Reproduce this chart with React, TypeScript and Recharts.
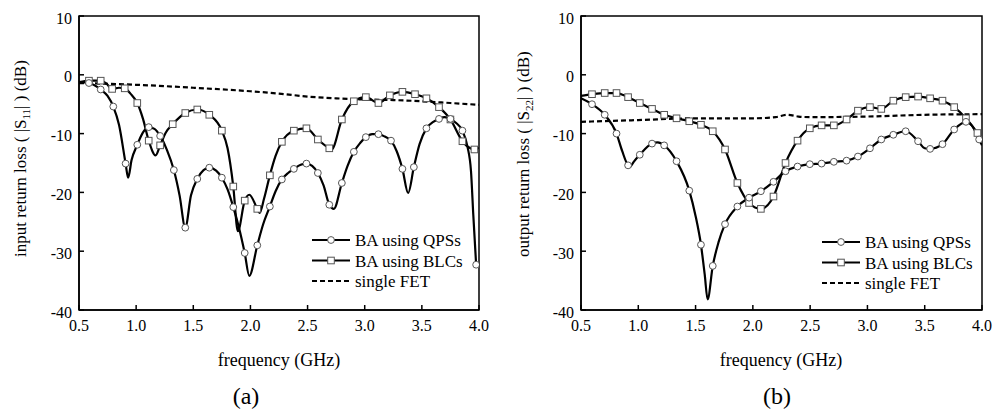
import React from 'react'
import { ComposedChart, Line, XAxis, YAxis, ReferenceArea } from 'recharts'

// [frequency GHz, dB, 1 = point carries a marker]
type Row = [number, number, number?]

const freqTicks = [0.5, 1.0, 1.5, 2.0, 2.5, 3.0, 3.5, 4.0]
const dbTicks = [-40, -30, -20, -10, 0, 10]
const seriesNames = ['BA using QPSs', 'BA using BLCs', 'single FET']

// (a) input return loss |S11|
const s11Qps: Row[] = [
  [0.5, -1.2], [0.587, -1.4, 1], [0.69, -2.5, 1], [0.75, -3.6], [0.8, -5.4, 1], [0.85, -8.5],
  [0.908, -15.1, 1], [0.93, -17.5], [0.96, -14.5], [1.01, -11.9, 1], [1.06, -9.8], [1.11, -8.9, 1],
  [1.16, -9.2], [1.21, -10.4, 1], [1.27, -12.8], [1.33, -16.2, 1], [1.38, -20.5], [1.43, -26, 1],
  [1.48, -20.5], [1.535, -17.7, 1], [1.59, -16.2], [1.64, -15.8, 1], [1.7, -16.3], [1.75, -17.5, 1],
  [1.8, -19.5], [1.85, -22.5, 1], [1.9, -26], [1.95, -30.3, 1], [1.99, -34.2], [2.06, -29, 1],
  [2.11, -25.5], [2.17, -22.4, 1], [2.22, -19.8], [2.275, -17.8, 1], [2.33, -16.7], [2.38, -16, 1],
  [2.44, -15.3], [2.49, -15.1, 1], [2.54, -15.5], [2.59, -16.7, 1], [2.64, -18.8], [2.69, -22.1, 1],
  [2.73, -22.8], [2.8, -18.4, 1], [2.85, -15.5], [2.905, -13.1, 1], [2.96, -11.6], [3.01, -10.6, 1],
  [3.065, -10.1], [3.12, -10.1, 1], [3.175, -10.5], [3.23, -11.2, 1], [3.28, -13], [3.33, -16, 1],
  [3.38, -20.1], [3.43, -15.7, 1], [3.48, -11.8], [3.54, -9.1, 1], [3.6, -8], [3.65, -7.5, 1],
  [3.7, -7.2], [3.75, -7.5, 1], [3.8, -8.2], [3.855, -9.5, 1], [3.9, -12.3], [3.93, -16.4],
  [3.95, -23.8], [3.975, -32.3, 1],
]
const s11Blc: Row[] = [
  [0.5, -1.3], [0.587, -1.0, 1], [0.69, -1.0, 1], [0.74, -1.5], [0.79, -2.4, 1], [0.85, -2.2],
  [0.9, -2.3, 1], [0.95, -3.2], [1.01, -4.8, 1], [1.06, -7.5], [1.11, -11.2, 1], [1.17, -13.7],
  [1.21, -12, 1], [1.26, -9.8], [1.32, -8.4, 1], [1.43, -6.5, 1], [1.535, -5.9, 1], [1.64, -6.8, 1],
  [1.75, -9.5, 1], [1.8, -12.5], [1.85, -19, 1], [1.89, -26.6], [1.95, -21.4, 1], [1.99, -20.4],
  [2.06, -22.8, 1], [2.08, -23.5], [2.12, -21], [2.17, -17.1, 1], [2.22, -13.8], [2.275, -11.4, 1],
  [2.38, -9.5, 1], [2.49, -9.1, 1], [2.59, -11, 1], [2.69, -12.5, 1], [2.71, -12.7], [2.8, -7.6, 1],
  [2.905, -4.5, 1], [3.01, -3.8, 1], [3.12, -4.8, 1], [3.22, -3.5, 1], [3.33, -2.9, 1], [3.44, -3.3, 1],
  [3.54, -4.0, 1], [3.65, -5.5, 1], [3.75, -7.6, 1], [3.855, -11.3, 1], [3.96, -12.7, 1], [4.0, -12.4],
]
const s11Fet: Row[] = [
  [0.5, -1.4], [1.0, -1.7], [1.5, -2.2], [2.0, -2.8], [2.25, -3.2], [2.5, -3.7], [2.75, -4.0],
  [3.0, -4.2], [3.25, -4.3], [3.5, -4.5], [3.75, -4.8], [4.0, -5.1],
]

// (b) output return loss |S22|
const s22Qps: Row[] = [
  [0.5, -4.0], [0.596, -5.0, 1], [0.707, -6.8, 1], [0.81, -10, 1], [0.86, -13], [0.911, -15.4, 1],
  [0.93, -15.6], [0.96, -14.8], [1.013, -13.6, 1], [1.12, -11.7, 1], [1.17, -11.5], [1.226, -12, 1],
  [1.334, -14.7, 1], [1.445, -19.7, 1], [1.5, -24], [1.547, -28.9, 1], [1.58, -34], [1.605, -38.2],
  [1.65, -32.5, 1], [1.7, -28.5], [1.757, -25.4, 1], [1.865, -22.4, 1], [1.967, -20.9, 1],
  [2.07, -19.8, 1], [2.18, -18.2, 1], [2.285, -16.4, 1], [2.39, -15.6, 1], [2.497, -15.2, 1],
  [2.6, -15.1, 1], [2.707, -14.8, 1], [2.818, -14.6, 1], [2.917, -13.9, 1], [3.022, -12.5, 1],
  [3.121, -11, 1], [3.226, -10.2, 1], [3.334, -9.6, 1], [3.442, -11.3, 1], [3.5, -12.5],
  [3.547, -12.6, 1], [3.655, -11.8, 1], [3.757, -9.3, 1], [3.86, -8.0, 1], [3.91, -8.6],
  [3.975, -11, 1], [4.0, -12],
]
const s22Blc: Row[] = [
  [0.5, -3.6], [0.596, -3.3, 1], [0.707, -3.1, 1], [0.81, -3.1, 1], [0.911, -3.8, 1], [1.013, -4.8, 1],
  [1.12, -5.8, 1], [1.226, -6.8, 1], [1.334, -7.4, 1], [1.445, -7.9, 1], [1.547, -8.5, 1],
  [1.65, -9.6, 1], [1.757, -12.7, 1], [1.865, -18.4, 1], [1.967, -21.8, 1], [2.07, -22.8, 1],
  [2.18, -20.7, 1], [2.285, -15, 1], [2.39, -11.2, 1], [2.497, -9.1, 1], [2.6, -8.6, 1],
  [2.707, -8.6, 1], [2.818, -7.6, 1], [2.917, -6.1, 1], [3.022, -5.5, 1], [3.121, -5.8, 1],
  [3.226, -4.4, 1], [3.334, -3.8, 1], [3.442, -3.7, 1], [3.547, -4.0, 1], [3.655, -4.4, 1],
  [3.757, -5.5, 1], [3.86, -7.4, 1], [3.96, -9.9, 1], [4.0, -11],
]
const s22Fet: Row[] = [
  [0.5, -8.0], [1.0, -7.7], [1.5, -7.4], [2.0, -7.4], [2.2, -7.2], [2.3, -6.8], [2.4, -7.1],
  [2.5, -7.2], [3.0, -7.1], [3.5, -6.8], [4.0, -6.7],
]

const serif = 'Liberation Serif'
const toPoints = (rows: Row[]) => rows.map(([f, db, m]) => ({ f, db, m: m === 1 }))

const circleDot = (p: any) =>
  p.payload && p.payload.m ? (
    <circle key={p.index} cx={p.cx} cy={p.cy} r={3.4} fill="#fff" stroke="#555" strokeWidth={1} />
  ) : (
    <g key={p.index} />
  )
const squareDot = (p: any) =>
  p.payload && p.payload.m ? (
    <rect key={p.index} x={p.cx - 3.3} y={p.cy - 3.3} width={6.6} height={6.6} fill="#fff" stroke="#555" strokeWidth={1} />
  ) : (
    <g key={p.index} />
  )

const tickStyle = { fontSize: 16, fill: '#000', fontFamily: serif }
const axisStyle = { stroke: '#000', strokeWidth: 1.5 }

function Panel({ left, mLeft, mRight, qps, blc, fet }: any) {
  return (
    <div style={{ position: 'absolute', left, top: 0 }}>
      <ComposedChart width={495} height={412} margin={{ top: 16, right: mRight, bottom: 72, left: mLeft }}>
        <XAxis
          type="number"
          dataKey="f"
          domain={[0.5, 4]}
          ticks={freqTicks}
          interval={0}
          allowDataOverflow
          tickFormatter={(v: number) => v.toFixed(1)}
          height={30}
          tickSize={-5}
          tickMargin={15}
          tick={tickStyle}
          axisLine={axisStyle}
          tickLine={axisStyle}
        />
        <YAxis
          type="number"
          domain={[-40, 10]}
          ticks={dbTicks}
          interval={0}
          allowDataOverflow
          width={40}
          tickSize={-5}
          tickMargin={12}
          tick={{ ...tickStyle, dy: 2 }}
          axisLine={axisStyle}
          tickLine={axisStyle}
        />
        <ReferenceArea x1={0.5} x2={4} y1={-40} y2={10} fill="none" stroke="#000" strokeWidth={1.5} />
        <Line data={toPoints(fet)} dataKey="db" type="monotone" stroke="#000" strokeWidth={2.2}
          strokeDasharray="5 3" dot={false} isAnimationActive={false} />
        <Line data={toPoints(blc)} dataKey="db" type="monotone" stroke="#000" strokeWidth={2.2}
          dot={squareDot} isAnimationActive={false} />
        <Line data={toPoints(qps)} dataKey="db" type="monotone" stroke="#000" strokeWidth={2.2}
          dot={circleDot} isAnimationActive={false} />
      </ComposedChart>
    </div>
  )
}

function LegendBox({ x, y }: { x: number; y: number }) {
  return (
    <g>
      {seriesNames.map((name, i) => {
        const cy = y + i * 20.5
        return (
          <g key={name}>
            <line x1={x} x2={x + 38} y1={cy} y2={cy} stroke="#000" strokeWidth={2.2}
              strokeDasharray={i === 2 ? '5 3' : undefined} />
            {i === 0 && <circle cx={x + 19} cy={cy} r={3.4} fill="#fff" stroke="#555" />}
            {i === 1 && <rect x={x + 15.7} y={cy - 3.3} width={6.6} height={6.6} fill="#fff" stroke="#555" />}
            <text x={x + 43} y={cy + 6} fontSize={17} fontFamily={serif}>{name}</text>
          </g>
        )
      })}
    </g>
  )
}

function YTitle({ x, word, sub }: { x: number; word: string; sub: string }) {
  return (
    <text transform={`translate(${x},257) rotate(-90)`} fontSize={17} fontFamily={serif}>
      {`${word} return loss ( |S`}
      <tspan dy={4} fontSize={11}>{sub}</tspan>
      <tspan dy={-4}>{'| ) (dB)'}</tspan>
    </text>
  )
}

export default function App() {
  return (
    <div style={{ position: 'absolute', left: 0, top: 0, width: 995, height: 412, background: '#fff', fontFamily: serif }}>
      <Panel left={0} mLeft={39} mRight={16} qps={s11Qps} blc={s11Blc} fet={s11Fet} />
      <Panel left={500} mLeft={41} mRight={13} qps={s22Qps} blc={s22Blc} fet={s22Fet} />
      <svg width={995} height={412} style={{ position: 'absolute', left: 0, top: 0, pointerEvents: 'none' }}
        fontFamily={serif} fill="#000">
        <YTitle x={26} word="input" sub="11" />
        <YTitle x={529} word="output" sub="22" />
        <text x={279} y={366} fontSize={18} textAnchor="middle" fontFamily={serif}>frequency (GHz)</text>
        <text x={781} y={366} fontSize={18} textAnchor="middle" fontFamily={serif}>frequency (GHz)</text>
        <text x={246} y={404} fontSize={24} textAnchor="middle" fontFamily={serif}>(a)</text>
        <text x={777} y={404} fontSize={24} textAnchor="middle" fontFamily={serif}>(b)</text>
        <LegendBox x={312} y={240} />
        <LegendBox x={822} y={242} />
      </svg>
    </div>
  )
}
